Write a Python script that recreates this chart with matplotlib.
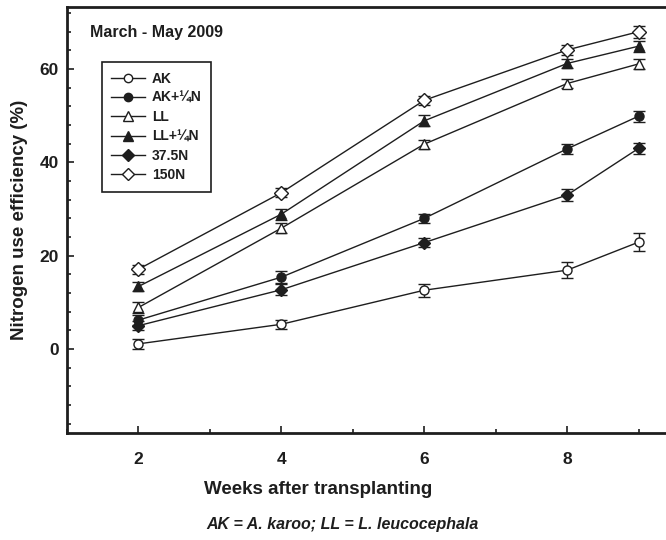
import matplotlib
matplotlib.use("Agg")
import matplotlib.pyplot as plt
from matplotlib.ticker import MultipleLocator
from matplotlib.lines import Line2D

weeks = [2, 4, 6, 8, 9]
labels = ["AK", "AK+¼N", "LL", "LL+¼N", "37.5N", "150N"]
ak = [1.1, 5.3, 12.6, 16.9, 22.9]
ak_n = [6.2, 15.4, 28.0, 42.9, 49.9]
ll = [8.9, 25.9, 43.9, 56.9, 61.1]
ll_n = [13.4, 28.9, 48.9, 61.2, 64.9]
n375 = [5.0, 12.7, 22.8, 33.0, 43.0]
n150 = [17.1, 33.5, 53.3, 64.1, 68.0]
err_ak = [1.0, 1.0, 1.4, 1.7, 1.9]
err_ak_n = [1.0, 1.3, 1.0, 1.0, 1.2]
err_ll = [1.2, 1.0, 1.0, 1.0, 1.0]
err_ll_n = [1.0, 1.2, 1.2, 1.0, 1.2]
err_n375 = [1.0, 1.2, 1.0, 1.2, 1.2]
err_n150 = [1.0, 1.0, 1.0, 1.0, 1.3]

series = [ak, ak_n, ll, ll_n, n375, n150]
errs = [err_ak, err_ak_n, err_ll, err_ll_n, err_n375, err_n150]
markers = ["o", "o", "^", "^", "D", "D"]
filled = [False, True, False, True, True, False]
msizes = [6.5, 6.5, 7, 7.5, 6.5, 7]

ink = "#1e1e1e"
plt.rcParams["font.family"] = ["Liberation Sans", "DejaVu Sans"]
plt.rcParams["font.weight"] = "bold"

fig = plt.figure(figsize=(6.66, 5.40), dpi=100)
ax = fig.add_axes([67 / 666, 107 / 540, 643 / 666, 426 / 540])

handles = []
for vals, e, m, f, ms, lab in zip(series, errs, markers, filled, msizes, labels):
    ax.errorbar(weeks, vals, yerr=e, marker=m, ms=ms, color=ink, lw=1.0,
                mfc=ink if f else "white", mec=ink, mew=1.0,
                elinewidth=1.0, capsize=4, capthick=1.0)
    handles.append(Line2D([], [], marker=m, ms=ms - 0.5, color=ink, lw=1.0,
                          mfc=ink if f else "white", mec=ink, mew=1.0, label=lab))

ax.set_xlim(1, 10)
ax.set_ylim(-18, 73.3)
ax.xaxis.set_minor_locator(MultipleLocator(1))
ax.yaxis.set_minor_locator(MultipleLocator(4))
ax.set_xticks([2, 4, 6, 8])
ax.set_yticks([0, 20, 40, 60])
ax.tick_params(which="both", direction="in", color=ink, width=1.2)
ax.tick_params(which="major", length=5, labelsize=12.5, labelcolor=ink, pad=6)
ax.tick_params(axis="x", which="major", pad=14)
ax.tick_params(which="minor", length=3)
for sp in ax.spines.values():
    sp.set_linewidth(2.0)
    sp.set_color(ink)
for lab in ax.get_xticklabels() + ax.get_yticklabels():
    lab.set_fontfamily(["Liberation Sans Narrow", "Liberation Sans"])
    lab.set_fontweight("bold")

ax.set_ylabel("Nitrogen use efficiency (%)", fontsize=13.5, fontweight="bold",
              color=ink)
ax.yaxis.set_label_coords(-0.060, 0.5)

ax.text(0.035, 0.94, "March - May 2009", transform=ax.transAxes, fontsize=11.5,
        fontweight="bold", color=ink, va="center", ha="left")

leg = ax.legend(handles=handles, loc="upper left", bbox_to_anchor=(0.054, 0.871),
                borderaxespad=0, fancybox=False, edgecolor=ink, framealpha=1,
                fontsize=10, handlelength=2.4, labelspacing=0.38, borderpad=0.7,
                handletextpad=0.5)
leg.get_frame().set_linewidth(1.2)
for t in leg.get_texts():
    t.set_fontweight("bold")
    t.set_color(ink)

fig.text(318 / 666, 1 - 490 / 540, "Weeks after transplanting", fontsize=13.5,
         fontweight="bold", color=ink, ha="center", va="center")
fig.text(342 / 666, 1 - 525 / 540, "AK = A. karoo; LL = L. leucocephala", fontsize=11.5,
         fontweight="bold", style="italic", color=ink, ha="center", va="center")

fig.savefig("out.png", dpi=100)
